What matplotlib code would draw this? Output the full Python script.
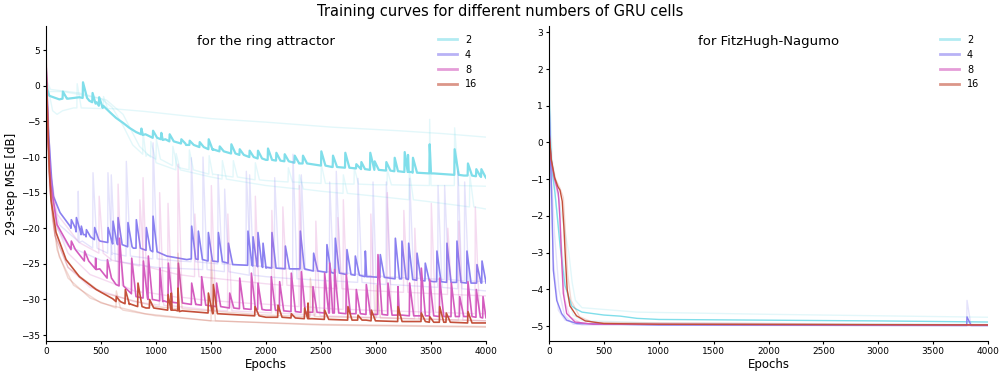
import matplotlib
matplotlib.use("Agg")
import matplotlib.pyplot as plt
from matplotlib.lines import Line2D

cells = [2, 4, 8, 16]
colours = ['#80deea', '#8a80f0', '#d45cbf', '#c4503a']

# ---- ring attractor: (epoch, dB) knots, spikes as (epoch, foot, peak) ----
ring2_main = [(0, 0.5), (10, -0.5), (30, -1.4), (121, -1.9), (200, -1.8), (303, -1.6),
              (394, -2.1), (450, -2.5), (515, -3.1), (580, -3.7), (636, -4.5), (700, -5.2),
              (758, -5.9), (820, -6.5), (879, -6.9), (970, -7.3), (1061, -7.6), (1273, -8.3),
              (1515, -9.0), (1758, -9.7), (2000, -10.4), (2300, -10.9), (2600, -11.4),
              (2900, -11.7), (3200, -12.0), (3500, -12.3), (3800, -12.6), (4000, -12.9)]
ring2_main_spk = [(150, -1.8, -0.8), (333, -1.7, 0.5), (420, -2.3, -1.0), (480, -2.8, -1.6),
                  (864, -6.8, -6.0), (970, -7.3, -6.3), (1045, -7.5, -6.6), (1121, -7.8, -6.8),
                  (1227, -8.1, -7.5), (1303, -8.3, -7.7), (1394, -8.6, -7.9), (1476, -8.9, -7.5),
                  (1576, -9.2, -8.5), (1682, -9.5, -8.2), (1758, -9.7, -8.9), (1848, -10.0, -9.1),
                  (1924, -10.2, -9.1), (2015, -10.4, -8.8), (2091, -10.5, -9.4), (2167, -10.6, -9.6),
                  (2258, -10.8, -9.8), (2333, -10.9, -9.8), (2500, -11.2, -9.2), (2606, -11.4, -9.8),
                  (2718, -11.5, -9.4), (2818, -11.6, -11.0), (2864, -11.7, -10.7), (2945, -11.8, -9.4),
                  (2985, -11.8, -10.6), (3091, -11.9, -10.7), (3167, -12.0, -10.1), (3258, -12.1, -9.3),
                  (3288, -12.1, -9.7), (3333, -12.2, -10.1), (3485, -12.3, -8.2), (3712, -12.5, -8.9),
                  (3833, -12.6, -10.9), (3909, -12.7, -11.7), (3955, -12.8, -11.7)]
ring2_a = [(0, 0.5), (30, -1.2), (60, -3.5), (100, -4.0), (150, -3.5), (250, -3.1), (600, -3.2),
           (900, -3.6), (1200, -4.1), (1500, -4.6), (2000, -5.1), (2600, -5.8), (3200, -6.3),
           (3600, -6.7), (4000, -7.2)]
ring2_a_spk = [(280, -3.1, 0.3), (520, -3.2, -1.5)]
ring2_b = [(0, 1.0), (30, -0.8), (150, -0.8), (300, -1.2), (500, -1.8), (600, -3.0), (697, -5.5),
           (788, -8.3), (909, -9.9), (1212, -11.5), (1515, -12.5), (2000, -13.3), (2500, -13.7),
           (3000, -13.9), (3500, -14.0), (4000, -14.1)]
ring2_b_spk = [(879, -9.6, -6.5), (1000, -10.3, -7.5), (1150, -11.2, -8.5), (1300, -11.8, -9.0),
               (1480, -12.4, -9.8), (1700, -12.8, -10.5), (1900, -13.2, -10.8), (2200, -13.5, -11.5),
               (2500, -13.7, -11.0), (2800, -13.8, -11.5), (3100, -13.9, -11.8), (3485, -14.0, -4.7),
               (3712, -14.0, -5.9)]
ring2_c = [(0, 1.0), (40, -0.5), (300, -1.0), (550, -2.0), (700, -4.0), (850, -8.5), (1000, -10.8),
           (1500, -12.8), (2000, -14.0), (2500, -14.8), (3000, -15.5), (3500, -16.3), (4000, -17.3)]
ring2_c_spk = [(950, -10.0, -7.8), (1180, -11.8, -9.5), (1600, -13.1, -10.5), (2300, -14.5, -12.5),
               (2700, -15.1, -12.5), (3300, -16.0, -12.0), (3850, -17.0, -12.5)]

ring4_main = [(0, 3.0), (20, -6.0), (50, -13.0), (67, -15.5), (127, -17.8), (218, -19.7),
              (339, -20.9), (491, -21.8), (794, -22.8), (1097, -23.9), (1279, -24.4), (1697, -25.1),
              (2000, -25.6), (2309, -25.7), (2612, -26.3), (2915, -26.8), (3218, -27.1),
              (3521, -27.5), (4000, -27.7)]
ring4_main_spk = [(227, -20.0, -18.8), (273, -20.5, -18.5), (318, -20.9, -19.7), (364, -21.2, -20.2),
                  (439, -21.6, -19.9), (561, -22.0, -19.9), (606, -22.2, -19.0), (652, -22.3, -18.5),
                  (742, -22.6, -19.2), (818, -22.8, -18.8), (909, -23.1, -19.9), (970, -23.3, -18.3),
                  (1321, -24.3, -19.7), (1382, -24.4, -20.4), (1473, -24.6, -20.6), (1564, -24.7, -20.6),
                  (1655, -24.9, -22.1), (1833, -25.2, -20.4), (1879, -25.3, -21.2), (1924, -25.4, -20.6),
                  (1970, -25.5, -22.1), (2051, -25.6, -20.6), (2173, -25.7, -22.5), (2309, -25.7, -20.4),
                  (2430, -26.0, -23.5), (2551, -26.2, -22.3), (2627, -26.3, -21.4), (2733, -26.5, -23.0),
                  (2809, -26.6, -23.9), (2900, -26.8, -23.2), (3036, -26.9, -23.7), (3173, -27.1, -21.4),
                  (3233, -27.1, -21.8), (3294, -27.2, -22.1), (3370, -27.3, -23.5), (3445, -27.4, -24.9),
                  (3551, -27.5, -23.2), (3642, -27.6, -22.1), (3733, -27.6, -21.8), (3824, -27.7, -23.2),
                  (3915, -27.7, -25.1), (3961, -27.7, -24.6)]
ring4_a = [(0, 3.0), (30, -10.0), (60, -16.0), (120, -19.5), (300, -22.0), (600, -23.7),
           (1200, -24.6), (2000, -25.4), (3000, -26.8), (4000, -27.5)]
ring4_a_spk = [(290, -21.8, -14.8), (424, -22.8, -12.2), (560, -23.5, -12.2), (727, -23.9, -10.6),
               (970, -24.3, -8.0), (1318, -24.7, -10.1), (1561, -25.0, -12.5), (1818, -25.2, -12.0),
               (2076, -25.5, -12.9), (2318, -25.9, -12.5), (2636, -26.2, -12.0), (2970, -26.7, -13.5),
               (3303, -27.0, -13.0), (3621, -27.2, -14.0), (3803, -27.4, -13.5)]
ring4_b = [(0, 3.0), (40, -12.0), (100, -20.0), (200, -22.5), (500, -24.5), (1000, -25.5),
           (2000, -26.8), (3000, -27.8), (4000, -28.8)]
ring4_b_spk = [(590, -24.6, -12.5), (1424, -25.8, -10.0), (1621, -26.1, -14.5), (1848, -26.6, -12.5),
               (2242, -27.1, -9.6), (2576, -27.4, -13.5), (2833, -27.6, -13.0), (3091, -27.9, -13.5),
               (3561, -28.3, -14.0), (3742, -28.5, -12.0)]

ring8_main = [(0, 3.0), (20, -8.0), (45, -14.0), (100, -19.5), (227, -23.0), (455, -25.8),
              (636, -27.9), (818, -29.6), (1061, -30.3), (1364, -30.7), (1667, -31.2),
              (2000, -31.5), (2606, -31.9), (3212, -32.2), (3818, -32.4), (4000, -32.6)]
ring8_main_spk = [(227, -23.0, -21.8), (348, -24.6, -23.2), (448, -25.7, -24.2), (555, -27.0, -24.4),
                  (664, -28.1, -21.4), (776, -29.2, -24.2), (882, -29.8, -24.6), (927, -30.0, -23.9),
                  (1033, -30.2, -25.6), (1109, -30.4, -24.9), (1200, -30.5, -24.9), (1321, -30.7, -27.7),
                  (1412, -30.8, -26.8), (1548, -31.0, -27.7), (1667, -31.2, -29.1), (1758, -31.3, -27.0),
                  (1864, -31.4, -26.3), (1924, -31.4, -27.7), (2045, -31.5, -26.8), (2121, -31.6, -27.5),
                  (2227, -31.7, -26.3), (2318, -31.8, -26.1), (2424, -31.8, -28.2), (2530, -31.9, -26.3),
                  (2576, -31.9, -24.9), (2621, -31.9, -25.8), (2727, -32.0, -26.5), (2818, -32.0, -28.6),
                  (2909, -32.1, -27.9), (3015, -32.1, -23.7), (3106, -32.2, -27.7), (3197, -32.2, -28.2),
                  (3303, -32.3, -27.7), (3409, -32.3, -25.6), (3485, -32.3, -27.2), (3576, -32.4, -27.0),
                  (3682, -32.4, -27.7), (3758, -32.4, -29.6), (3833, -32.4, -27.5), (3909, -32.5, -28.6),
                  (3970, -32.6, -29.6)]
ring8_a = [(0, 4.0), (30, -12.0), (80, -19.0), (200, -23.5), (400, -26.5), (800, -28.8),
           (1500, -30.2), (2500, -31.2), (4000, -32.0)]
ring8_a_spk = [(652, -28.0, -13.8), (879, -29.0, -12.9), (1197, -29.7, -11.0), (1500, -30.2, -14.0),
               (1900, -30.6, -15.5), (2300, -31.0, -14.0), (2700, -31.4, -16.0), (3100, -31.6, -15.0),
               (3500, -31.8, -16.5), (3900, -32.0, -17.0)]
ring8_b = [(0, 4.0), (30, -14.0), (80, -21.0), (200, -25.5), (400, -28.3), (800, -30.3),
           (1500, -31.5), (2500, -32.3), (4000, -33.0)]
ring8_b_spk = [(1030, -30.8, -15.0), (1106, -30.9, -16.5), (1650, -31.6, -18.0), (2050, -31.9, -17.5),
               (2450, -32.2, -19.0), (2950, -32.5, -18.0), (3350, -32.7, -20.0), (3750, -32.9, -19.0)]
ring8_c = [(0, 4.0), (40, -12.0), (100, -18.0), (300, -22.0), (600, -24.5), (1200, -26.5),
           (2000, -27.8), (3000, -28.8), (4000, -29.5)]
ring8_c_spk = [(480, -23.5, -15.5), (850, -25.3, -16.0), (1350, -26.8, -18.0), (2150, -28.0, -17.0),
               (2650, -28.5, -18.5), (3250, -29.0, -17.5), (3650, -29.3, -20.0)]

ring16_main = [(0, 2.0), (15, -5.0), (30, -12.0), (45, -16.0), (91, -20.6), (182, -24.4),
               (303, -26.8), (455, -28.6), (606, -29.9), (758, -30.7), (909, -31.2), (1212, -31.7),
               (1515, -32.0), (2000, -32.5), (2909, -32.9), (4000, -33.3)]
ring16_main_spk = [(636, -30.3, -29.6), (718, -30.6, -28.6), (833, -31.0, -27.7), (939, -31.2, -30.0),
                   (1106, -31.5, -29.3), (1136, -31.5, -29.1), (1197, -31.6, -28.4), (1473, -31.9, -29.1),
                   (1518, -32.0, -27.9), (1897, -32.3, -31.0), (2106, -32.5, -30.8), (2227, -32.6, -32.0),
                   (2348, -32.7, -31.2), (2379, -32.7, -30.5), (2530, -32.8, -31.5), (2742, -32.9, -31.0),
                   (2833, -32.9, -32.2), (2955, -33.0, -31.5), (3197, -33.1, -31.0), (3409, -33.1, -31.9),
                   (3485, -33.2, -32.4), (3576, -33.2, -31.0), (3636, -33.2, -31.9), (3833, -33.3, -31.7)]
ring16_a = [(0, 6.3), (20, -8.0), (50, -17.0), (100, -23.0), (200, -27.0), (400, -29.8),
            (700, -31.5), (1000, -32.3), (1500, -33.0), (2500, -33.5), (4000, -33.8)]
ring16_a_spk = [(636, -31.2, -28.8)]
ring16_b = [(0, 5.0), (20, -10.0), (60, -19.0), (120, -24.0), (250, -28.0), (500, -30.5),
            (900, -32.0), (1500, -33.0), (2500, -33.6), (4000, -33.9)]
ring16_b_spk = [(1500, -33.0, -24.5)]
ring16_c = [(0, 4.0), (30, -12.0), (80, -21.0), (200, -25.5), (500, -29.0), (1000, -31.0),
            (2000, -32.2), (4000, -33.0)]
ring16_c_spk = [(1197, -31.3, -23.5), (2400, -32.4, -27.0), (3000, -32.6, -28.0)]

# ---- FitzHugh-Nagumo ----
fhn2_main = [(0, 1.3), (10, 0.2), (27, -0.75), (55, -1.4), (100, -2.8), (146, -3.9), (207, -4.45),
             (237, -4.52), (300, -4.62), (500, -4.7), (650, -4.73), (800, -4.79), (1000, -4.82),
             (2000, -4.84), (3000, -4.86), (4000, -4.89)]
fhn2_a = [(0, 2.8), (10, 1.0), (30, -0.5), (80, -1.4), (130, -2.2), (180, -3.0), (210, -3.8),
          (240, -4.3), (300, -4.5), (800, -4.62), (2000, -4.68), (4000, -4.76)]
fhn2_b = [(0, 1.5), (20, -0.5), (60, -1.6), (120, -3.0), (170, -4.2), (220, -4.7), (300, -4.85),
          (1000, -4.92), (4000, -4.95)]
fhn4_main = [(0, 1.2), (10, 0.0), (25, -1.57), (39, -3.48), (70, -4.3), (115, -4.66), (161, -4.84),
             (252, -4.93), (1000, -4.97), (4000, -4.98)]
fhn4_main_spk = [(3806, -4.98, -4.75)]
fhn4_a = [(0, 1.2), (15, -1.0), (39, -3.2), (85, -4.57), (146, -4.84), (300, -4.97), (4000, -5.0)]
fhn4_a_spk = [(3806, -5.0, -4.3)]
fhn4_b = [(0, 1.0), (20, -0.8), (50, -2.5), (90, -4.0), (140, -4.7), (220, -4.95), (4000, -5.0)]
fhn8_main = [(0, 0.2), (20, -0.5), (50, -1.0), (70, -1.2), (85, -1.39), (100, -2.12), (115, -3.21),
             (130, -4.11), (161, -4.66), (237, -4.89), (400, -4.95), (4000, -4.97)]
fhn8_a = [(0, 0.3), (20, -0.6), (60, -1.2), (95, -1.6), (110, -2.6), (125, -3.6), (145, -4.3),
          (190, -4.75), (300, -4.93), (4000, -4.97)]
fhn16_main = [(0, 0.3), (20, -0.45), (50, -0.95), (80, -1.2), (100, -1.3), (120, -1.6), (135, -2.3),
              (150, -3.2), (165, -4.0), (190, -4.45), (250, -4.72), (330, -4.86), (500, -4.93),
              (1000, -4.95), (4000, -4.97)]
fhn16_a = [(0, 0.2), (20, -0.5), (60, -1.0), (100, -1.25), (130, -1.5), (150, -2.5), (170, -3.6),
           (200, -4.3), (280, -4.75), (400, -4.9), (4000, -4.97)]


def build(knots, spikes=()):
    # merge the smooth curve with sharp rise / quick decay spikes
    pts = list(knots)
    for e, foot, peak in spikes:
        pts += [(e, foot), (e + 3, peak), (e + 40, foot)]
    pts.sort()
    return [p[0] for p in pts], [p[1] for p in pts]


ring_runs = {
    2: ([(ring2_a, ring2_a_spk), (ring2_b, ring2_b_spk), (ring2_c, ring2_c_spk)], (ring2_main, ring2_main_spk)),
    4: ([(ring4_a, ring4_a_spk), (ring4_b, ring4_b_spk)], (ring4_main, ring4_main_spk)),
    8: ([(ring8_a, ring8_a_spk), (ring8_b, ring8_b_spk), (ring8_c, ring8_c_spk)], (ring8_main, ring8_main_spk)),
    16: ([(ring16_a, ring16_a_spk), (ring16_b, ring16_b_spk), (ring16_c, ring16_c_spk)], (ring16_main, ring16_main_spk)),
}
fhn_runs = {
    2: ([(fhn2_a, ()), (fhn2_b, ())], (fhn2_main, ())),
    4: ([(fhn4_a, fhn4_a_spk), (fhn4_b, ())], (fhn4_main, fhn4_main_spk)),
    8: ([(fhn8_a, ())], (fhn8_main, ())),
    16: ([(fhn16_a, ())], (fhn16_main, ())),
}

fig = plt.figure(figsize=(10.01, 3.72), dpi=100)
ax1 = fig.add_axes([0.046, 0.084, 0.4395, 0.846])
ax2 = fig.add_axes([0.5485, 0.084, 0.4385, 0.846])
fig.suptitle('Training curves for different numbers of GRU cells', fontsize=10.5, y=0.968, va='center')

for ax, runs, title, lw_main in [(ax1, ring_runs, 'for the ring attractor', 1.2),
                                 (ax2, fhn_runs, 'for FitzHugh-Nagumo', 1.0)]:
    for n, c in zip(cells, colours):
        faint, main = runs[n]
        for knots, spk in faint:
            x, y = build(knots, spk)
            ax.plot(x, y, color=c, lw=1.0, alpha=0.22)
        x, y = build(*main)
        ax.plot(x, y, color=c, lw=1.6 if (ax is ax1 and n == 2) else lw_main)
    handles = [Line2D([], [], color=c, lw=2, alpha=0.6) for c in colours]
    ax.legend(handles, [str(n) for n in cells], loc='upper right', frameon=False, fontsize=7)
    ax.text(0.5, 0.95, title, transform=ax.transAxes, ha='center', va='center', fontsize=9.5)
    ax.set_xlim(0, 4000)
    ax.set_xlabel('Epochs', fontsize=8.5, labelpad=1.5)
    ax.tick_params(labelsize=6.5, length=2.5, width=0.8, pad=2)
    ax.spines['top'].set_visible(False)
    ax.spines['right'].set_visible(False)

ax1.set_ylim(-35.8, 8.4)
ax2.set_ylim(-5.4, 3.17)
ax1.set_ylabel('29-step MSE [dB]', fontsize=8.5, labelpad=2)

fig.savefig('out.png', dpi=100)
